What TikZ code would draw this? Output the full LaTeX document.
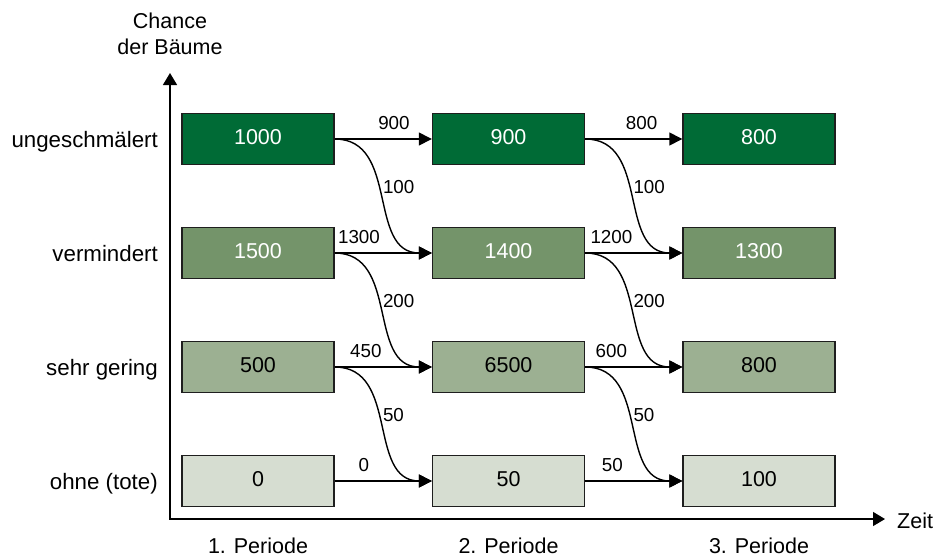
\documentclass[tikz,border=0pt]{standalone}
\usepackage{fontspec}
\setmainfont{Liberation Sans}
\usetikzlibrary{arrows.meta}
\definecolor{rowA}{RGB}{0,107,54}
\definecolor{rowB}{RGB}{116,148,106}
\definecolor{rowC}{RGB}{156,176,146}
\definecolor{rowD}{RGB}{214,221,209}
\definecolor{edge}{RGB}{30,30,30}
\begin{document}
\begin{tikzpicture}[x=1pt,y=-1pt,
  box/.style={draw=edge, line width=1.4pt, minimum width=152pt, minimum height=51pt,
    inner sep=0pt, text height=15pt, text depth=4pt, font=\fontsize{21.5}{25}\selectfont},
  light/.style={text=white},
  flow/.style={draw=black, line width=1.4pt, -{Triangle[length=13pt,width=13pt]}},
  lbl/.style={font=\fontsize{18.8}{20}\selectfont, inner sep=1pt},
  up/.style={above=8pt},
  side/.style={right=0.5pt},
  axis/.style={line width=1.4pt, {Triangle[length=12pt,width=14pt]}-{Triangle[length=12pt,width=14pt]}},
  big/.style={font=\fontsize{21.5}{26}\selectfont, inner sep=0pt},
  rowlbl/.style={font=\fontsize{22.3}{26}\selectfont, inner sep=0pt, anchor=base east}]
\useasboundingbox (0,0) rectangle (949,557);

% axes
\coordinate (ytop) at (170,73);
\coordinate (orig) at (170,519);
\coordinate (xend) at (885,519);
\draw[axis] (ytop) -- (orig) -- (xend);
\node[big, align=center] (ylab) at (170,34) {Chance\\der Bäume};
\node[big, anchor=base west] (xlab) at (897,528) {Zeit};

% row labels
\node[rowlbl] (r1) at (158,147) {ungeschmälert};
\node[rowlbl] (r2) at (158,261) {vermindert};
\node[rowlbl] (r3) at (158,375) {sehr gering};
\node[rowlbl] (r4) at (158,489) {ohne (tote)};

% period labels
\node[big, anchor=base] (p1) at (258,553) {1. Periode};
\node[big, anchor=base] (p2) at (508.5,553) {2. Periode};
\node[big, anchor=base] (p3) at (759,553) {3. Periode};

% boxes
\node[box, light, fill=rowA] (a1) at (258,139) {1000};
\node[box, light, fill=rowB] (a2) at (258,253) {1500};
\node[box, fill=rowC] (a3) at (258,367) {500};
\node[box, fill=rowD] (a4) at (258,481) {0};
\node[box, light, fill=rowA] (b1) at (508.5,139) {900};
\node[box, light, fill=rowB] (b2) at (508.5,253) {1400};
\node[box, fill=rowC] (b3) at (508.5,367) {6500};
\node[box, fill=rowD] (b4) at (508.5,481) {50};
\node[box, light, fill=rowA] (c1) at (759,139) {800};
\node[box, light, fill=rowB] (c2) at (759,253) {1300};
\node[box, fill=rowC] (c3) at (759,367) {800};
\node[box, fill=rowD] (c4) at (759,481) {100};

% straight flows
\draw[flow] (a1) -- node[lbl, up, pos=0.61] {900} (b1);
\draw[flow] (a2) -- node[lbl, up, pos=0.25] {1300} (b2);
\draw[flow] (a3) -- node[lbl, up, pos=0.32] {450} (b3);
\draw[flow] (a4) -- node[lbl, up, pos=0.30] {0} (b4);
\draw[flow] (b1) -- node[lbl, up, pos=0.58] {800} (c1);
\draw[flow] (b2) -- node[lbl, up, pos=0.27] {1200} (c2);
\draw[flow] (b3) -- node[lbl, up, pos=0.27] {600} (c3);
\draw[flow] (b4) -- node[lbl, up, pos=0.28] {50} (c4);

% curved flows
\draw[flow] (a1.east) .. controls +(65,0) and +(-65,0) .. node[lbl, side, pos=0.45] {100} (b2.west);
\draw[flow] (a2.east) .. controls +(65,0) and +(-65,0) .. node[lbl, side, pos=0.45] {200} (b3.west);
\draw[flow] (a3.east) .. controls +(65,0) and +(-65,0) .. node[lbl, side, pos=0.45] {50} (b4.west);
\draw[flow] (b1.east) .. controls +(65,0) and +(-65,0) .. node[lbl, side, pos=0.45] {100} (c2.west);
\draw[flow] (b2.east) .. controls +(65,0) and +(-65,0) .. node[lbl, side, pos=0.45] {200} (c3.west);
\draw[flow] (b3.east) .. controls +(65,0) and +(-65,0) .. node[lbl, side, pos=0.45] {50} (c4.west);
\end{tikzpicture}
\end{document}
